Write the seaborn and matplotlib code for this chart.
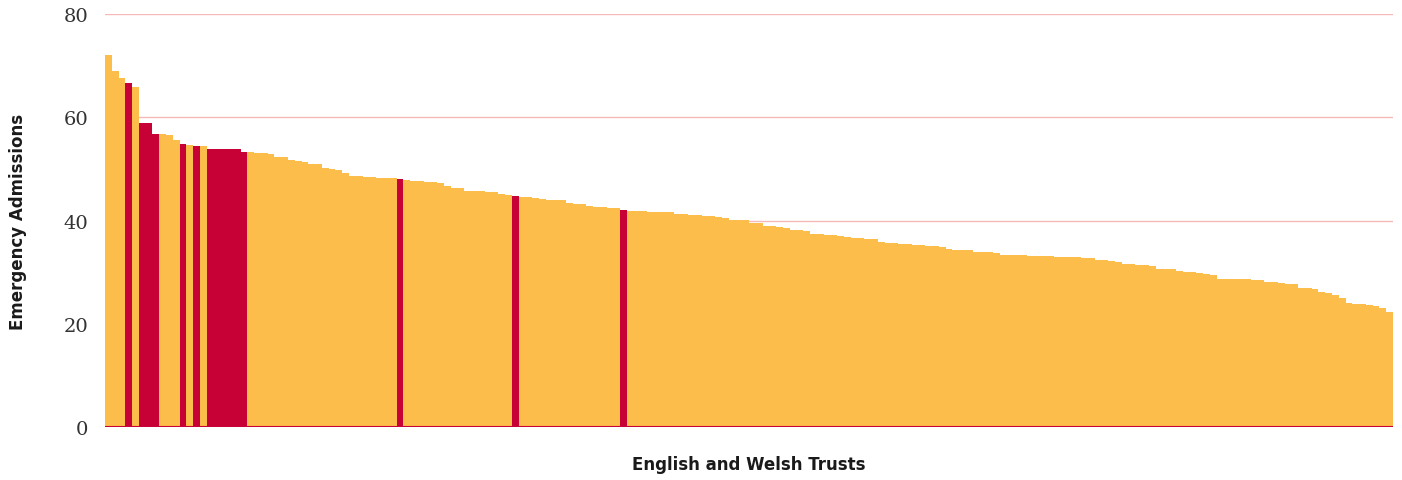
import numpy as np
import pandas as pd
import seaborn as sns
import matplotlib.pyplot as plt

# admissions per trust, sorted descending
admissions = [
    72.0, 69.0, 67.6, 66.6, 65.9, 58.9, 58.9, 56.8, 56.8, 56.6,
    55.6, 54.8, 54.6, 54.4, 54.4, 53.8, 53.8, 53.8, 53.8, 53.8,
    53.3, 53.3, 53.1, 53.1, 52.9, 52.3, 52.3, 51.7, 51.5, 51.3,
    50.9, 50.9, 50.2, 50.0, 49.8, 49.2, 48.6, 48.6, 48.4, 48.35,
    48.3, 48.25, 48.2, 48.0, 47.8, 47.7, 47.6, 47.55, 47.5, 47.3,
    46.7, 46.3, 46.3, 45.7, 45.7, 45.65, 45.6, 45.5, 45.1, 44.9,
    44.7, 44.6, 44.6, 44.4, 44.2, 44.0, 44.0, 44.0, 43.4, 43.2,
    43.2, 42.8, 42.7, 42.6, 42.5, 42.4, 42.0, 41.8, 41.8, 41.75,
    41.7, 41.7, 41.65, 41.6, 41.3, 41.2, 41.1, 41.0, 40.9, 40.8,
    40.6, 40.5, 40.1, 40.1, 40.1, 39.5, 39.5, 38.9, 38.9, 38.7,
    38.5, 38.2, 38.2, 38.0, 37.4, 37.3, 37.2, 37.1, 37.0, 36.9,
    36.7, 36.6, 36.5, 36.4, 35.8, 35.7, 35.6, 35.5, 35.4, 35.3,
    35.2, 35.1, 35.0, 34.9, 34.5, 34.3, 34.3, 34.3, 33.9, 33.9,
    33.9, 33.7, 33.4, 33.35, 33.3, 33.25, 33.2, 33.15, 33.1, 33.05,
    33.0, 32.95, 32.9, 32.85, 32.8, 32.7, 32.3, 32.3, 32.2, 32.0,
    31.6, 31.6, 31.4, 31.4, 31.2, 30.6, 30.6, 30.6, 30.2, 30.0,
    30.0, 29.8, 29.6, 29.4, 28.7, 28.7, 28.65, 28.6, 28.6, 28.55,
    28.5, 28.1, 28.0, 27.9, 27.8, 27.7, 26.9, 26.9, 26.7, 26.1,
    26.0, 25.6, 25.0, 24.0, 23.9, 23.8, 23.6, 23.4, 23.1, 22.3,
]
# trusts picked out in red
highlighted = [3, 5, 6, 7, 11, 13, 15, 16, 17, 18, 19, 20, 43, 60, 76]

YELLOW = '#FDBD4A'
RED = '#C70036'

df = pd.DataFrame({'trust': range(len(admissions)), 'admissions': admissions})
df['group'] = np.where(df['trust'].isin(highlighted), 'highlight', 'other')

sns.set_style('white')
fig = plt.figure(figsize=(14.02, 4.81), dpi=100)
ax = fig.add_axes([0.0749, 0.110, 0.9187, 0.859])

sns.barplot(data=df, x='trust', y='admissions', hue='group',
            palette={'highlight': RED, 'other': YELLOW},
            dodge=False, width=1.0, linewidth=0, saturation=1,
            legend=False, native_scale=True, ax=ax)

ax.set_xlim(-0.5, len(admissions) - 0.5)
ax.set_ylim(0, 80)
ax.set_yticks([0, 20, 40, 60, 80])
ax.set_yticklabels(['0', '20', '40', '60', '80'], family='DejaVu Serif',
                   fontsize=14, color='#333333')
ax.set_xticks([])
ax.tick_params(axis='y', length=0, pad=12)
ax.set_axisbelow(True)
ax.yaxis.grid(True, color='#F5B9B9', linewidth=1)
for s in ax.spines.values():
    s.set_visible(False)
ax.axhline(0, color=RED, linewidth=1.5, zorder=5)

ax.set_xlabel('English and Welsh Trusts', fontsize=12, fontweight='bold',
              color='#1a1a1a')
ax.set_ylabel('Emergency Admissions', fontsize=12, fontweight='bold',
              color='#1a1a1a')
ax.xaxis.set_label_coords(0.5, -0.068)
ax.yaxis.set_label_coords(-0.0675, 0.5)
ax.yaxis.label.set_va('center')
ax.xaxis.label.set_va('top')

fig.savefig('out.png', dpi=100)
